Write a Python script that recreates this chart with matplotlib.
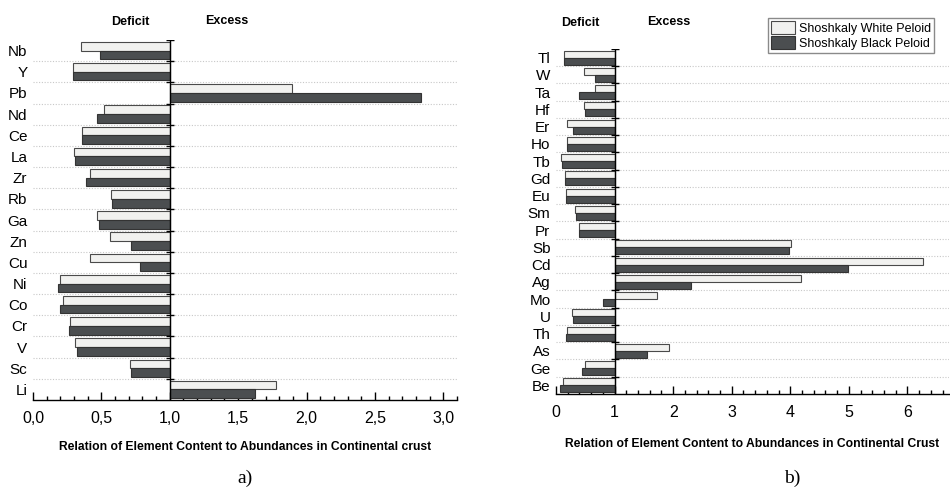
import matplotlib
matplotlib.use("Agg")
import matplotlib.pyplot as plt
import numpy as np
from matplotlib.ticker import MultipleLocator, FuncFormatter

plt.rcParams['font.family'] = ['Liberation Sans', 'DejaVu Sans']

# panel a) data, listed top to bottom
elements_a = ['Nb', 'Y', 'Pb', 'Nd', 'Ce', 'La', 'Zr', 'Rb', 'Ga', 'Zn',
              'Cu', 'Ni', 'Co', 'Cr', 'V', 'Sc', 'Li']
white_a = [0.35, 0.29, 1.89, 0.52, 0.355, 0.30, 0.42, 0.57, 0.47, 0.56,
           0.42, 0.20, 0.22, 0.27, 0.31, 0.71, 1.78]
black_a = [0.49, 0.29, 2.84, 0.47, 0.355, 0.31, 0.39, 0.58, 0.48, 0.72,
           0.78, 0.185, 0.20, 0.26, 0.32, 0.72, 1.62]

# panel b) data, listed top to bottom
elements_b = ['Tl', 'W', 'Ta', 'Hf', 'Er', 'Ho', 'Tb', 'Gd', 'Eu', 'Sm',
              'Pr', 'Sb', 'Cd', 'Ag', 'Mo', 'U', 'Th', 'As', 'Ge', 'Be']
white_b = [0.14, 0.47, 0.66, 0.48, 0.19, 0.19, 0.09, 0.15, 0.165, 0.33,
           0.39, 4.01, 6.26, 4.18, 1.72, 0.27, 0.18, 1.93, 0.49, 0.125]
black_b = [0.14, 0.66, 0.39, 0.49, 0.29, 0.19, 0.11, 0.15, 0.165, 0.34,
           0.39, 3.98, 4.98, 2.30, 0.81, 0.29, 0.165, 1.55, 0.44, 0.06]

WHITE = '#f1f1ef'
BLACK = '#4b4e50'
EDGE = '#4a4a4a'

W, H = 950, 490
fig = plt.figure(figsize=(9.5, 4.9), dpi=100)


def px_axes(left, right, top, bottom):
    return fig.add_axes([left / W, 1 - bottom / H, (right - left) / W, (bottom - top) / H])


def draw_panel(ax, names, white, black, xmax, major, minor, fmt):
    n = len(names)
    y = np.arange(n)
    h = 0.41
    ax.barh(y - h / 2, np.array(white) - 1, left=1, height=h,
            color=WHITE, edgecolor=EDGE, linewidth=0.8, label='Shoshkaly White Peloid', zorder=3)
    ax.barh(y + h / 2, np.array(black) - 1, left=1, height=h,
            color=BLACK, edgecolor='#333333', linewidth=0.8, label='Shoshkaly Black Peloid', zorder=3)

    bounds = np.arange(n + 1) - 0.5
    for b in bounds[1:-1]:
        ax.axhline(b, color='#c8c8c8', ls=(0, (1, 1.5)), lw=0.8, zorder=1)
    ax.axvline(1, color='black', lw=1.0, zorder=4)
    ax.plot(np.ones(n), bounds[:-1], ls='none', marker='_', ms=6, mew=1.0,
            color='black', zorder=4)

    ax.set_xlim(0, xmax)
    ax.set_ylim(n - 0.5, -0.5)
    ax.set_yticks(y)
    ax.set_yticklabels(names, fontsize=11)
    ax.tick_params(axis='y', length=0, pad=4)

    ax.xaxis.set_major_locator(MultipleLocator(major))
    ax.xaxis.set_minor_locator(MultipleLocator(minor))
    ax.xaxis.set_major_formatter(FuncFormatter(fmt))
    ax.tick_params(axis='x', which='major', direction='in', length=6, width=1.0,
                   labelsize=11.5, pad=8)
    ax.tick_params(axis='x', which='minor', direction='in', length=3, width=1.0)

    for s in ['left', 'right', 'top']:
        ax.spines[s].set_visible(False)
    ax.spines['bottom'].set_linewidth(1.0)


ax1 = px_axes(33, 457, 40, 400)
draw_panel(ax1, elements_a, white_a, black_a, 3.1, 0.5, 0.1,
           lambda v, p: f'{v:.1f}'.replace('.', ','))
ax1.set_xlabel('Relation of Element Content to Abundances in Continental crust',
               fontsize=8.7, fontweight='bold', labelpad=11)

ax2 = px_axes(556, 949, 49, 394)
draw_panel(ax2, elements_b, white_b, black_b, 6.71, 1, 0.2,
           lambda v, p: f'{v:.0f}')
ax2.set_xlabel('Relation of Element Content to Abundances in Continental Crust',
               fontsize=8.7, fontweight='bold', labelpad=13)

bold = dict(fontsize=9, fontweight='bold', ha='center', va='center')
fig.text(130 / W, 1 - 22 / H, 'Deficit', **bold)
fig.text(227 / W, 1 - 21 / H, 'Excess', **bold)
fig.text(580 / W, 1 - 23 / H, 'Deficit', **bold)
fig.text(669 / W, 1 - 22 / H, 'Excess', **bold)

serif = dict(fontsize=14, family='Liberation Serif', ha='center', va='center')
fig.text(245 / W, 1 - 478 / H, 'a)', **serif)
fig.text(792 / W, 1 - 478 / H, 'b)', **serif)

leg = ax2.legend(loc='upper right', bbox_to_anchor=(934 / W, 1 - 18 / H),
                 bbox_transform=fig.transFigure, fontsize=9, frameon=True,
                 fancybox=False, edgecolor='#8a8a8a', framealpha=1,
                 handlelength=1.9, handleheight=1.2, handletextpad=0.3,
                 borderpad=0.25, labelspacing=0.1, borderaxespad=0)
leg.get_frame().set_linewidth(1.0)

fig.savefig('out.png', dpi=100)
